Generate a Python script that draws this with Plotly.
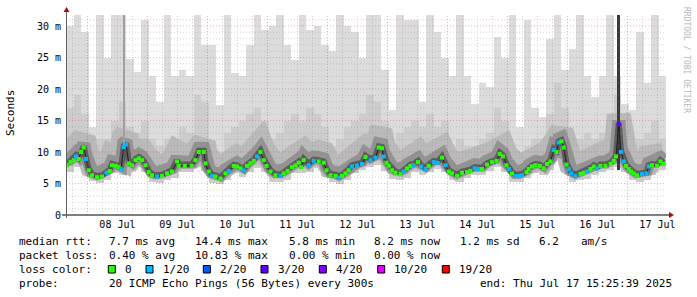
import pandas as pd
import plotly.graph_objects as go

START = pd.Timestamp("2025-07-07 15:25:39")
END = pd.Timestamp("2025-07-17 15:25:39")

# median RTT readings: hours after START, value in ms, lost pings (of 20)
med_hours = [0.5, 1.8, 3.1, 4.0, 5.1, 6.0, 7.1, 8.0, 9.1, 10.4,
             12.4, 14.4, 16.2, 17.5, 18.4, 19.8, 21.1, 22.0, 23.1, 24.0,
             25.1, 26.4, 27.8, 29.1, 30.4, 31.8, 33.1, 34.4, 36.4, 38.4,
             40.4, 42.4, 44.4, 45.1, 47.5, 50.3, 51.8, 53.1, 55.1, 55.8,
             57.1, 58.4, 59.8, 61.8, 63.8, 65.1, 67.1, 68.4, 69.8, 71.1,
             72.4, 73.8, 75.1, 76.4, 77.8, 79.1, 80.2, 81.8, 83.8, 85.8,
             87.1, 88.7, 90.4, 91.8, 93.1, 94.0, 95.1, 97.1, 99.1, 101.1,
             103.1, 104.2, 105.8, 107.8, 109.1, 110.4, 111.8, 113.1, 114.4, 116.4,
             118.4, 119.8, 121.8, 123.8, 125.1, 126.4, 127.1, 128.2, 129.1, 130.4,
             131.8, 133.8, 135.1, 136.4, 137.8, 139.1, 140.8, 142.0, 143.8, 145.1,
             147.1, 148.7, 150.4, 151.8, 153.1, 154.4, 156.4, 158.4, 160.4, 161.8,
             163.5, 165.1, 166.4, 168.4, 170.4, 172.2, 173.5, 174.8, 176.2, 177.1,
             178.4, 179.8, 181.1, 182.4, 184.2, 185.1, 186.4, 187.8, 189.5, 191.1,
             192.4, 193.8, 195.1, 196.2, 197.1, 198.2, 199.1, 200.2, 201.1, 202.0,
             203.8, 205.8, 207.1, 208.4, 209.8, 211.1, 212.4, 213.8, 215.8, 217.8,
             219.1, 220.0, 221.1, 222.0, 223.1, 224.0, 225.1, 226.0, 227.1, 228.4,
             230.4, 232.2, 233.1, 234.4, 236.4, 237.8, 239.1]
med_ms = [7.9, 8.4, 8.7, 9.3, 8.9, 10.0, 10.7, 8.9, 7.1, 6.3,
          6.0, 6.1, 6.7, 7.0, 7.9, 7.8, 7.6, 7.3, 10.8, 11.2,
          8.2, 7.9, 8.7, 9.0, 8.7, 7.9, 6.8, 6.3, 6.1, 6.2,
          6.6, 6.9, 8.5, 7.8, 7.8, 7.8, 8.7, 10.0, 10.0, 8.2,
          6.9, 6.2, 6.1, 5.8, 6.6, 7.0, 7.8, 7.7, 7.4, 7.1,
          7.8, 8.2, 8.6, 9.3, 10.0, 8.7, 7.8, 6.9, 6.3, 6.2,
          6.6, 7.0, 7.6, 7.9, 8.3, 7.6, 8.7, 7.9, 8.6, 8.5,
          8.3, 7.1, 6.3, 6.2, 5.9, 6.2, 6.6, 7.1, 7.7, 7.8,
          8.1, 9.2, 8.7, 9.1, 10.7, 10.6, 9.3, 8.3, 7.8, 7.1,
          6.7, 6.5, 6.9, 7.4, 7.8, 7.9, 8.4, 7.7, 7.3, 7.8,
          8.4, 8.3, 9.1, 7.9, 6.9, 6.6, 6.2, 6.7, 6.8, 7.0,
          7.4, 7.3, 7.3, 8.0, 8.4, 8.6, 9.7, 9.3, 7.9, 7.3,
          6.6, 6.2, 6.2, 6.3, 6.8, 7.3, 7.7, 7.9, 7.8, 7.4,
          8.1, 8.5, 10.3, 10.0, 11.5, 11.7, 10.7, 8.0, 7.3, 6.6,
          6.2, 6.5, 6.7, 6.9, 7.3, 7.7, 7.4, 7.8, 7.8, 8.1,
          8.6, 9.3, 14.4, 10.0, 8.5, 7.8, 7.3, 6.9, 6.6, 6.3,
          6.5, 6.6, 7.7, 7.9, 7.8, 8.5, 8.1]
med_loss = [0, 0, 0, 1, 0, 0, 0, 1, 0, 0,
            0, 0, 1, 0, 0, 0, 0, 1, 1, 1,
            0, 0, 0, 0, 0, 0, 0, 0, 1, 0,
            0, 0, 0, 0, 0, 0, 0, 0, 0, 0,
            0, 1, 0, 0, 0, 1, 0, 0, 0, 1,
            0, 0, 0, 1, 0, 0, 0, 0, 0, 1,
            0, 0, 0, 0, 0, 0, 0, 1, 1, 0,
            0, 0, 0, 0, 1, 0, 0, 0, 1, 1,
            1, 0, 1, 1, 0, 0, 1, 0, 0, 0,
            0, 0, 1, 0, 0, 1, 0, 1, 1, 0,
            1, 1, 0, 1, 0, 0, 0, 0, 0, 0,
            1, 1, 0, 0, 0, 0, 0, 0, 0, 1,
            0, 1, 1, 1, 0, 0, 0, 0, 0, 0,
            0, 0, 1, 0, 1, 0, 0, 0, 1, 1,
            1, 0, 0, 1, 0, 0, 1, 0, 0, 0,
            0, 0, 3, 1, 1, 0, 0, 0, 0, 0,
            1, 1, 1, 0, 0, 0, 0]

# smoke (ping spread) per 3-hour bin: lowest ping, medium-gray top, highest ping (ms)
BIN_HOURS = 3
smoke_lo = [6.8, 7.6, 7.6, 5.4, 5.1, 5.5, 6.6, 6.4, 6.9, 7.6,
            6.8, 5.3, 5.1, 5.5, 5.9, 6.8, 6.8, 7.6, 7.0, 5.1,
            4.9, 5.5, 6.6, 6.1, 6.8, 7.5, 6.8, 5.3, 5.2, 5.6,
            6.6, 6.7, 6.9, 7.4, 6.2, 5.2, 5.0, 5.6, 6.7, 7.1,
            7.7, 8.0, 7.0, 5.7, 5.5, 5.9, 6.9, 6.3, 6.8, 7.3,
            6.9, 5.6, 5.2, 5.8, 6.3, 6.3, 7.0, 7.6, 6.9, 5.2,
            5.2, 5.8, 6.7, 6.4, 7.1, 8.8, 7.0, 5.2, 5.5, 5.7,
            6.4, 6.8, 7.1, 7.6, 6.8, 5.6, 5.3, 5.6, 6.8, 7.1]
smoke_mid = [17, 19, 16, 11, 12, 12, 15, 18, 14, 13,
             15, 12, 11, 12, 12, 14, 13, 19, 18, 11,
             10, 13, 14, 15, 16, 17, 15, 12, 13, 15,
             16, 15, 17, 16, 14, 11, 12, 14, 15, 16,
             19, 18, 15, 11, 13, 14, 15, 14, 16, 14,
             15, 11, 12, 11, 11, 12, 13, 17, 15, 11,
             10, 11, 12, 12, 16, 21, 17, 11, 12, 13,
             12, 13, 15, 19, 13, 10, 12, 13, 15, 12]
smoke_top = [30, 32, 29, 14, 32, 25, 32, 32, 24.8, 22.7,
             31, 22, 18, 32, 22, 23, 22, 32, 27, 27,
             17.4, 32, 22.5, 22, 27, 32, 29.4, 30, 32, 27,
             24.6, 32, 29.4, 30, 27, 26, 32, 30, 29, 25,
             32, 32, 23, 16.7, 32, 31, 31, 18, 32, 29,
             25, 22, 32, 22, 17.7, 21, 20.4, 28.3, 25, 32,
             14, 31, 17, 15.6, 28, 32, 23, 26.4, 32, 22,
             18.8, 22, 32, 22, 17.7, 16.7, 29, 21, 32, 22]

# narrow spikes where all pings were high
spike_hours = [23.1, 221.1]
spike_lo = [10.6, 7.2]
spike_hi = [32, 32]

loss_levels = [0, 1, 2, 3, 4, 10, 19]
loss_labels = ["0", "1/20", "2/20", "3/20", "4/20", "10/20", "19/20"]
loss_colors = ["#26ff00", "#00b8ff", "#0059ff", "#5e00ff", "#7e00ff", "#dd00ff", "#ff0000"]

y_ticks = [0, 5, 10, 15, 20, 25, 30]
y_ticktext = ["0", "5 m", "10 m", "15 m", "20 m", "25 m", "30 m"]
Y_MAX = 31.75

FONT = "DejaVu Sans Mono"
W, H = 697, 297
L, R, T, B = 66, 31, 15, 82
PW, PH = W - L - R, H - T - B


def px(x):
    return (x - L) / PW


def py(y):
    return (H - B - y) / PH


med_t = START + pd.to_timedelta(med_hours, unit="h")
n_bins = len(smoke_top)
bin_t = [START + pd.Timedelta(hours=BIN_HOURS * (i + 0.5)) for i in range(n_bins)]
bin_w = BIN_HOURS * 3600 * 1000

fig = go.Figure()
fig.add_trace(go.Bar(x=bin_t, y=[t - l for t, l in zip(smoke_top, smoke_lo)], base=smoke_lo,
                     width=bin_w, marker=dict(color="#dcdcdc", line=dict(width=0)), hoverinfo="skip"))
fig.add_trace(go.Bar(x=bin_t, y=[m - l for m, l in zip(smoke_mid, smoke_lo)], base=smoke_lo,
                     width=bin_w, marker=dict(color="#cdcdcd", line=dict(width=0)), hoverinfo="skip"))

# dark smoke band hugging the median (same data, drawn on offset axes, widest/lightest first)
band_styles = [("y2", 24, "#bababa"), ("y3", 13, "#939393"), ("y4", 6, "#5c5c5c")]
for ax, wd, col in band_styles:
    fig.add_trace(go.Scatter(x=med_t, y=med_ms, yaxis=ax, mode="lines",
                             line=dict(color=col, width=wd), hoverinfo="skip"))

fig.add_trace(go.Bar(x=START + pd.to_timedelta(spike_hours, unit="h"),
                     y=[h - l for h, l in zip(spike_hi, spike_lo)], base=spike_lo, yaxis="y5",
                     width=[0.8 * 3600 * 1000, 1.1 * 3600 * 1000],
                     marker=dict(color=["#a0a0a0", "#3a3a3a"], line=dict(width=0)), hoverinfo="skip"))

fig.add_trace(go.Scatter(x=med_t, y=med_ms, yaxis="y5", mode="lines",
                         line=dict(color="#202020", width=1), hoverinfo="skip"))
color_of = dict(zip(loss_levels, loss_colors))
fig.add_trace(go.Scatter(x=med_t, y=med_ms, yaxis="y5", mode="markers",
                         marker=dict(symbol="square", size=4, color=[color_of[v] for v in med_loss],
                                     line=dict(width=0))))

shapes = []
# horizontal grid
for k in range(1, 32):
    major = k % 5 == 0
    shapes.append(dict(type="line", xref="paper", yref="y", x0=0, x1=1, y0=k, y1=k, layer="above",
                       line=dict(color="rgba(220,60,60,0.4)" if major else "rgba(140,140,140,0.35)",
                                 width=1, dash="1px,2px")))
# vertical grid every 6h
t = START.ceil("6h")
while t < END:
    major = t.hour == 0
    shapes.append(dict(type="line", xref="x", yref="paper", x0=t, x1=t, y0=0, y1=1, layer="above",
                       line=dict(color="rgba(220,60,60,0.4)" if major else "rgba(140,140,140,0.35)",
                                 width=1, dash="1px,2px")))
    t += pd.Timedelta(hours=6)

# axes lines and arrows
shapes.append(dict(type="line", xref="paper", yref="paper", x0=px(62), x1=px(669), y0=0, y1=0,
                   line=dict(color="#000000", width=1)))
shapes.append(dict(type="line", xref="paper", yref="paper", x0=px(66.5), x1=px(66.5), y0=py(218), y1=py(11),
                   line=dict(color="#606060", width=1)))
shapes.append(dict(type="path", xref="paper", yref="paper",
                   path=f"M {px(63.5)},{py(12)} L {px(69.5)},{py(12)} L {px(66.5)},{py(7)} Z",
                   fillcolor="#a01010", line=dict(width=0)))
shapes.append(dict(type="path", xref="paper", yref="paper",
                   path=f"M {px(669)},{py(212)} L {px(669)},{py(218)} L {px(674)},{py(215)} Z",
                   fillcolor="#a01010", line=dict(width=0)))

annotations = []


def txt(x, y, s, size=11, color="#000000", angle=0, xanchor="left"):
    annotations.append(dict(x=px(x), y=py(y), xref="paper", yref="paper", text=s, showarrow=False,
                            xanchor=xanchor, yanchor="middle", textangle=angle,
                            font=dict(family=FONT, size=size, color=color)))


txt(10, 113, "Seconds", size=11, angle=-90, xanchor="center")
txt(686, 60, "RRDTOOL / TOBI OETIKER", size=8, color="#b8b8b8", angle=90, xanchor="center")

r1, r2, r3, r4 = 241.5, 255.5, 269.5, 283.5
for x, s in [(16.5, "median rtt:"), (107.3, "7.7 ms avg"), (193.3, "14.4 ms max"), (286.7, "5.8 ms min"),
             (372.3, "8.2 ms now"), (458.3, "1.2 ms sd"), (536.7, "6.2"), (579.3, "am/s")]:
    txt(x, r1, s)
for x, s in [(16.5, "packet loss:"), (107.3, "0.40 % avg"), (193.3, "10.83 % max"), (286.7, "0.00 % min"),
             (372.3, "0.00 % now")]:
    txt(x, r2, s)
txt(16.5, r3, "loss color:")
box_x = [108.3, 146.0, 203.3, 261.0, 319.3, 377.7, 442.3]
for bx, lab, col in zip(box_x, loss_labels, loss_colors):
    shapes.append(dict(type="rect", xref="paper", yref="paper", x0=px(bx), x1=px(bx + 7),
                       y0=py(r3 + 3.5), y1=py(r3 - 4), fillcolor=col, line=dict(color="#000000", width=1)))
    txt(bx + 14.5, r3, lab)
txt(16.5, r4, "probe:")
txt(107.3, r4, "20 ICMP Echo Pings (56 Bytes) every 300s")
txt(478.3, r4, "end: Thu Jul 17 15:25:39 2025")

day_noons = pd.date_range("2025-07-08 12:00", "2025-07-17 12:00", freq="D")
day_labels = [d.strftime("%d %b") for d in day_noons]

fig.update_layout(
    width=W, height=H, margin=dict(l=L, r=R, t=T, b=B),
    paper_bgcolor="white", plot_bgcolor="white", showlegend=False,
    barmode="overlay", bargap=0,
    shapes=shapes, annotations=annotations,
    xaxis=dict(type="date", range=[START, END], showgrid=False, zeroline=False, showline=False,
               tickvals=list(day_noons), ticktext=day_labels, ticks="", ticklabelstandoff=2,
               tickfont=dict(family=FONT, size=10, color="#000000")),
    yaxis=dict(range=[0, Y_MAX], showgrid=False, zeroline=False, showline=False,
               tickvals=y_ticks, ticktext=y_ticktext, ticks="", ticklabelstandoff=4,
               tickfont=dict(family=FONT, size=10, color="#000000")),
    yaxis2=dict(range=[-1.5, Y_MAX - 1.5], overlaying="y", visible=False),
    yaxis3=dict(range=[-0.6, Y_MAX - 0.6], overlaying="y", visible=False),
    yaxis4=dict(range=[-0.2, Y_MAX - 0.2], overlaying="y", visible=False),
    yaxis5=dict(range=[0, Y_MAX], overlaying="y", visible=False),
)

fig.write_html("out.html")
